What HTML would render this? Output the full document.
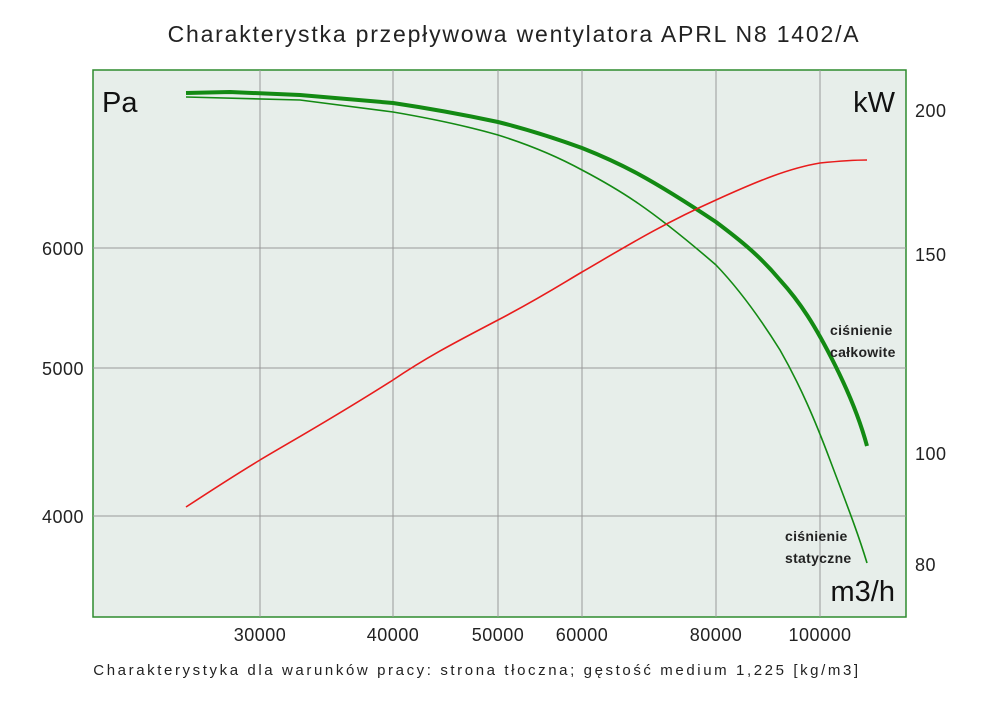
<!DOCTYPE html>
<html><head><meta charset="utf-8"><style>
body{margin:0;background:#fff;width:1000px;height:706px;overflow:hidden;font-family:"Liberation Sans","DejaVu Sans",sans-serif}
</style></head><body>
<svg width="1000" height="706" xmlns="http://www.w3.org/2000/svg" font-family="Liberation Sans, DejaVu Sans, sans-serif">
<rect x="0" y="0" width="1000" height="706" fill="#fff"/>
<text x="514" y="42" font-size="23" text-anchor="middle" fill="#222" letter-spacing="1.8">Charakterystka przepływowa wentylatora APRL N8 1402/A</text>
<rect x="93" y="70" width="813" height="547" fill="#e7eeea" stroke="#2e8b2e" stroke-width="1.5"/>
<g stroke="#999" stroke-width="1">
<line x1="260" y1="70" x2="260" y2="617"/><line x1="393" y1="70" x2="393" y2="617"/>
<line x1="498" y1="70" x2="498" y2="617"/><line x1="582" y1="70" x2="582" y2="617"/>
<line x1="716" y1="70" x2="716" y2="617"/><line x1="820" y1="70" x2="820" y2="617"/>
<line x1="93" y1="248" x2="906" y2="248"/><line x1="93" y1="368" x2="906" y2="368"/>
<line x1="93" y1="516" x2="906" y2="516"/>
</g>
<path d="M186,93 L230,92 L300,95 L393,103 C440,110 470,116 498,122 C530,130 560,140 582,148 C620,163 650,178 716,222 C740,240 760,256 780,280 C800,302 815,325 835,365 C850,395 860,420 867,446" fill="none" stroke="#138a13" stroke-width="4"/>
<path d="M186,97 L300,100 L393,112 C440,120 470,127 498,135 C530,145 560,158 582,170 C620,190 650,208 716,265 C740,290 760,318 780,350 C800,385 815,420 830,460 C845,500 857,530 867,563" fill="none" stroke="#138a13" stroke-width="1.6"/>
<path d="M186,507 C215,488 240,472 260,460 C290,442 330,420 393,380 C430,355 460,340 498,320 C540,298 560,285 582,272 C620,250 660,225 716,200 C760,180 790,168 820,163 C840,161 855,160 867,160" fill="none" stroke="#e81c1c" stroke-width="1.6"/>
<text x="102" y="112" font-size="29" fill="#111">Pa</text>
<text x="895" y="112" font-size="29" fill="#111" text-anchor="end">kW</text>
<text x="895" y="601" font-size="29" fill="#111" text-anchor="end">m3/h</text>
<g font-size="14" font-weight="bold" fill="#222" letter-spacing="0.3">
<text x="830" y="335">ciśnienie</text><text x="830" y="357">całkowite</text>
<text x="785" y="541">ciśnienie</text><text x="785" y="563">statyczne</text>
</g>
<g font-size="18" fill="#222" letter-spacing="0.5">
<text x="84" y="255" text-anchor="end">6000</text>
<text x="84" y="375" text-anchor="end">5000</text>
<text x="84" y="523" text-anchor="end">4000</text>
<text x="915" y="117">200</text><text x="915" y="261">150</text>
<text x="915" y="460">100</text><text x="915" y="571">80</text>
<g text-anchor="middle">
<text x="260" y="641">30000</text><text x="393" y="641">40000</text>
<text x="498" y="641">50000</text><text x="582" y="641">60000</text>
<text x="716" y="641">80000</text><text x="820" y="641">100000</text>
</g></g>
<text x="477" y="675" font-size="15" fill="#222" text-anchor="middle" letter-spacing="2.6">Charakterystyka dla warunków pracy: strona tłoczna; gęstość medium 1,225 [kg/m3]</text>
</svg>
</body></html>
